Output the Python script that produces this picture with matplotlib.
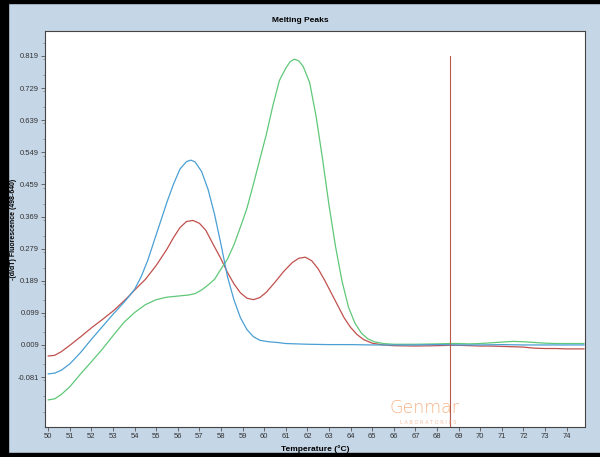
import matplotlib
matplotlib.use("Agg")
import matplotlib.pyplot as plt
from matplotlib.patches import Rectangle
from matplotlib.ticker import MultipleLocator, FixedLocator

# Melting peak curves (temperature in deg C, -(d/dT) fluorescence)
red_t = [50.0, 50.3, 50.6, 51.0, 51.5, 52.0, 52.5, 53.0, 53.5, 53.75, 54.0, 54.5, 55.0,
         55.5, 55.8, 56.1, 56.4, 56.7, 57.0, 57.3, 57.6, 58.0, 58.3, 58.6, 58.9, 59.2,
         59.5, 59.8, 60.1, 60.5, 60.9, 61.3, 61.6, 61.9, 62.2, 62.5, 62.8, 63.1, 63.4,
         63.7, 64.0, 64.3, 64.6, 65.0, 65.5, 66.0, 67.0, 68.0, 68.6, 69.0, 69.5, 70.0,
         70.5, 71.0, 71.5, 72.0, 72.5, 73.0, 73.5, 74.0, 74.8]
red_y = [-0.022, -0.020, -0.010, 0.008, 0.032, 0.057, 0.080, 0.104, 0.132, 0.147, 0.163,
         0.193, 0.232, 0.278, 0.310, 0.338, 0.355, 0.358, 0.350, 0.330, 0.295, 0.250,
         0.212, 0.180, 0.155, 0.140, 0.136, 0.142, 0.157, 0.185, 0.215, 0.240, 0.252,
         0.255, 0.245, 0.222, 0.190, 0.155, 0.120, 0.085, 0.058, 0.038, 0.024, 0.014,
         0.009, 0.007, 0.006, 0.007, 0.008, 0.008, 0.007, 0.006, 0.006, 0.005, 0.004,
         0.003, 0.000, -0.001, -0.001, -0.002, -0.002]

blue_t = [50.0, 50.3, 50.6, 51.0, 51.5, 52.0, 52.5, 53.0, 53.5, 53.75, 54.0, 54.3, 54.6,
          54.9, 55.2, 55.5, 55.8, 56.1, 56.4, 56.6, 56.8, 57.1, 57.4, 57.7, 58.0, 58.3,
          58.6, 58.9, 59.2, 59.5, 59.8, 60.2, 60.6, 61.0, 61.5, 62.0, 63.0, 64.0, 65.0,
          66.0, 67.0, 68.0, 69.0, 70.0, 71.0, 72.0, 73.0, 74.0, 74.8]
blue_y = [-0.072, -0.070, -0.062, -0.044, -0.012, 0.025, 0.060, 0.095, 0.128, 0.146,
          0.165, 0.200, 0.245, 0.300, 0.355, 0.410, 0.460, 0.502, 0.523, 0.527, 0.522,
          0.495, 0.445, 0.375, 0.290, 0.200, 0.135, 0.085, 0.052, 0.032, 0.022, 0.018,
          0.016, 0.013, 0.012, 0.011, 0.010, 0.010, 0.009, 0.009, 0.009, 0.010, 0.009,
          0.009, 0.010, 0.009, 0.009, 0.009, 0.009]

green_t = [50.0, 50.3, 50.6, 51.0, 51.5, 52.0, 52.5, 53.0, 53.5, 54.0, 54.5, 55.0, 55.5,
           56.0, 56.5, 56.8, 57.1, 57.4, 57.7, 58.0, 58.3, 58.6, 58.9, 59.2, 59.5, 59.8,
           60.1, 60.4, 60.7, 61.0, 61.2, 61.4, 61.6, 61.8, 62.1, 62.4, 62.7, 63.0, 63.3,
           63.6, 63.9, 64.2, 64.5, 64.8, 65.1, 65.5, 66.0, 67.0, 68.0, 68.6, 69.0, 69.5,
           70.0, 70.5, 71.0, 71.5, 72.0, 72.5, 73.0, 73.5, 74.0, 74.8]
green_y = [-0.145, -0.142, -0.130, -0.108, -0.072, -0.038, -0.003, 0.035, 0.072, 0.100,
           0.122, 0.136, 0.143, 0.146, 0.149, 0.153, 0.163, 0.177, 0.193, 0.222, 0.250,
           0.290, 0.340, 0.392, 0.460, 0.530, 0.600, 0.680, 0.750, 0.785, 0.803, 0.810,
           0.805, 0.790, 0.745, 0.650, 0.530, 0.400, 0.285, 0.188, 0.115, 0.070, 0.042,
           0.026, 0.018, 0.013, 0.011, 0.011, 0.012, 0.013, 0.013, 0.012, 0.013, 0.015,
           0.017, 0.019, 0.018, 0.016, 0.014, 0.013, 0.013, 0.013]

marker_temp = 68.6
y_ticks = [-0.081, 0.009, 0.099, 0.189, 0.279, 0.369, 0.459, 0.549, 0.639, 0.729, 0.819]
x_ticks = list(range(50, 75))

tick_font = 'Liberation Sans'
bg = '#c5d6e7'

fig = plt.figure(figsize=(6, 4.57), dpi=100, facecolor=bg)
ax = fig.add_axes([0.075, 0.0656, 0.9, 0.8666])
ax.set_facecolor('white')

ax.plot(red_t, red_y, color='#c0504d', lw=0.9)
ax.plot(green_t, green_y, color='#5fc878', lw=0.9)
ax.plot(blue_t, blue_y, color='#4a9fd4', lw=0.9)
ax.plot([marker_temp, marker_temp], [-0.25, 0.82], color='#b85a4a', lw=0.8)

# faint logo watermark
ax.text(67.4, -0.168, 'Genmar', color='#f2a068', alpha=0.8, fontsize=12.5,
        ha='center', va='center', family='DejaVu Sans', fontweight='light')
ax.text(67.6, -0.209, 'L A B O R A T O R I E S', color='#f0b090', alpha=0.8,
        fontsize=3.6, ha='center', va='center')

ax.set_xlim(49.85, 74.85)
ax.set_ylim(-0.221, 0.889)
ax.xaxis.set_major_locator(FixedLocator(x_ticks))
ax.yaxis.set_major_locator(FixedLocator(y_ticks))
ax.yaxis.set_minor_locator(MultipleLocator(0.045))
ax.set_yticklabels([f'{v:.3f}' for v in y_ticks])

for lab in ax.get_xticklabels() + ax.get_yticklabels():
    lab.set_family(tick_font)
    lab.set_fontsize(5.5)
    lab.set_color('#333333')
ax.tick_params(direction='out', length=3, width=0.6, color='#555555', pad=1.2)
ax.tick_params(which='minor', length=1.5, width=0.5, color='#777777')
for s in ax.spines.values():
    s.set_color('#444444')
    s.set_linewidth(0.8)

ax.set_xlabel('Temperature (°C)', fontsize=6, fontweight='bold', family=tick_font)
ax.xaxis.set_label_coords(0.5, -0.045)
ax.set_ylabel('-(d/dT) Fluorescence (498-640)', fontsize=5, fontweight='bold',
              family=tick_font)
ax.yaxis.set_label_coords(-0.051, 0.5)
fig.text(0.5, 1 - 20 / 457, 'Melting Peaks', ha='center', va='center',
         fontsize=6, fontweight='bold', family=tick_font)

# black frame strips of the screenshot
fig.patches.append(Rectangle((0, 0), 8 / 600, 1, transform=fig.transFigure,
                             color='black', zorder=10))
fig.patches.append(Rectangle((0, 1 - 3 / 457), 1, 3 / 457, transform=fig.transFigure,
                             color='black', zorder=10))
fig.patches.append(Rectangle((0, 0), 1, 4 / 457, transform=fig.transFigure,
                             color='black', zorder=10))

fig.savefig('out.png', dpi=100, facecolor=bg)
